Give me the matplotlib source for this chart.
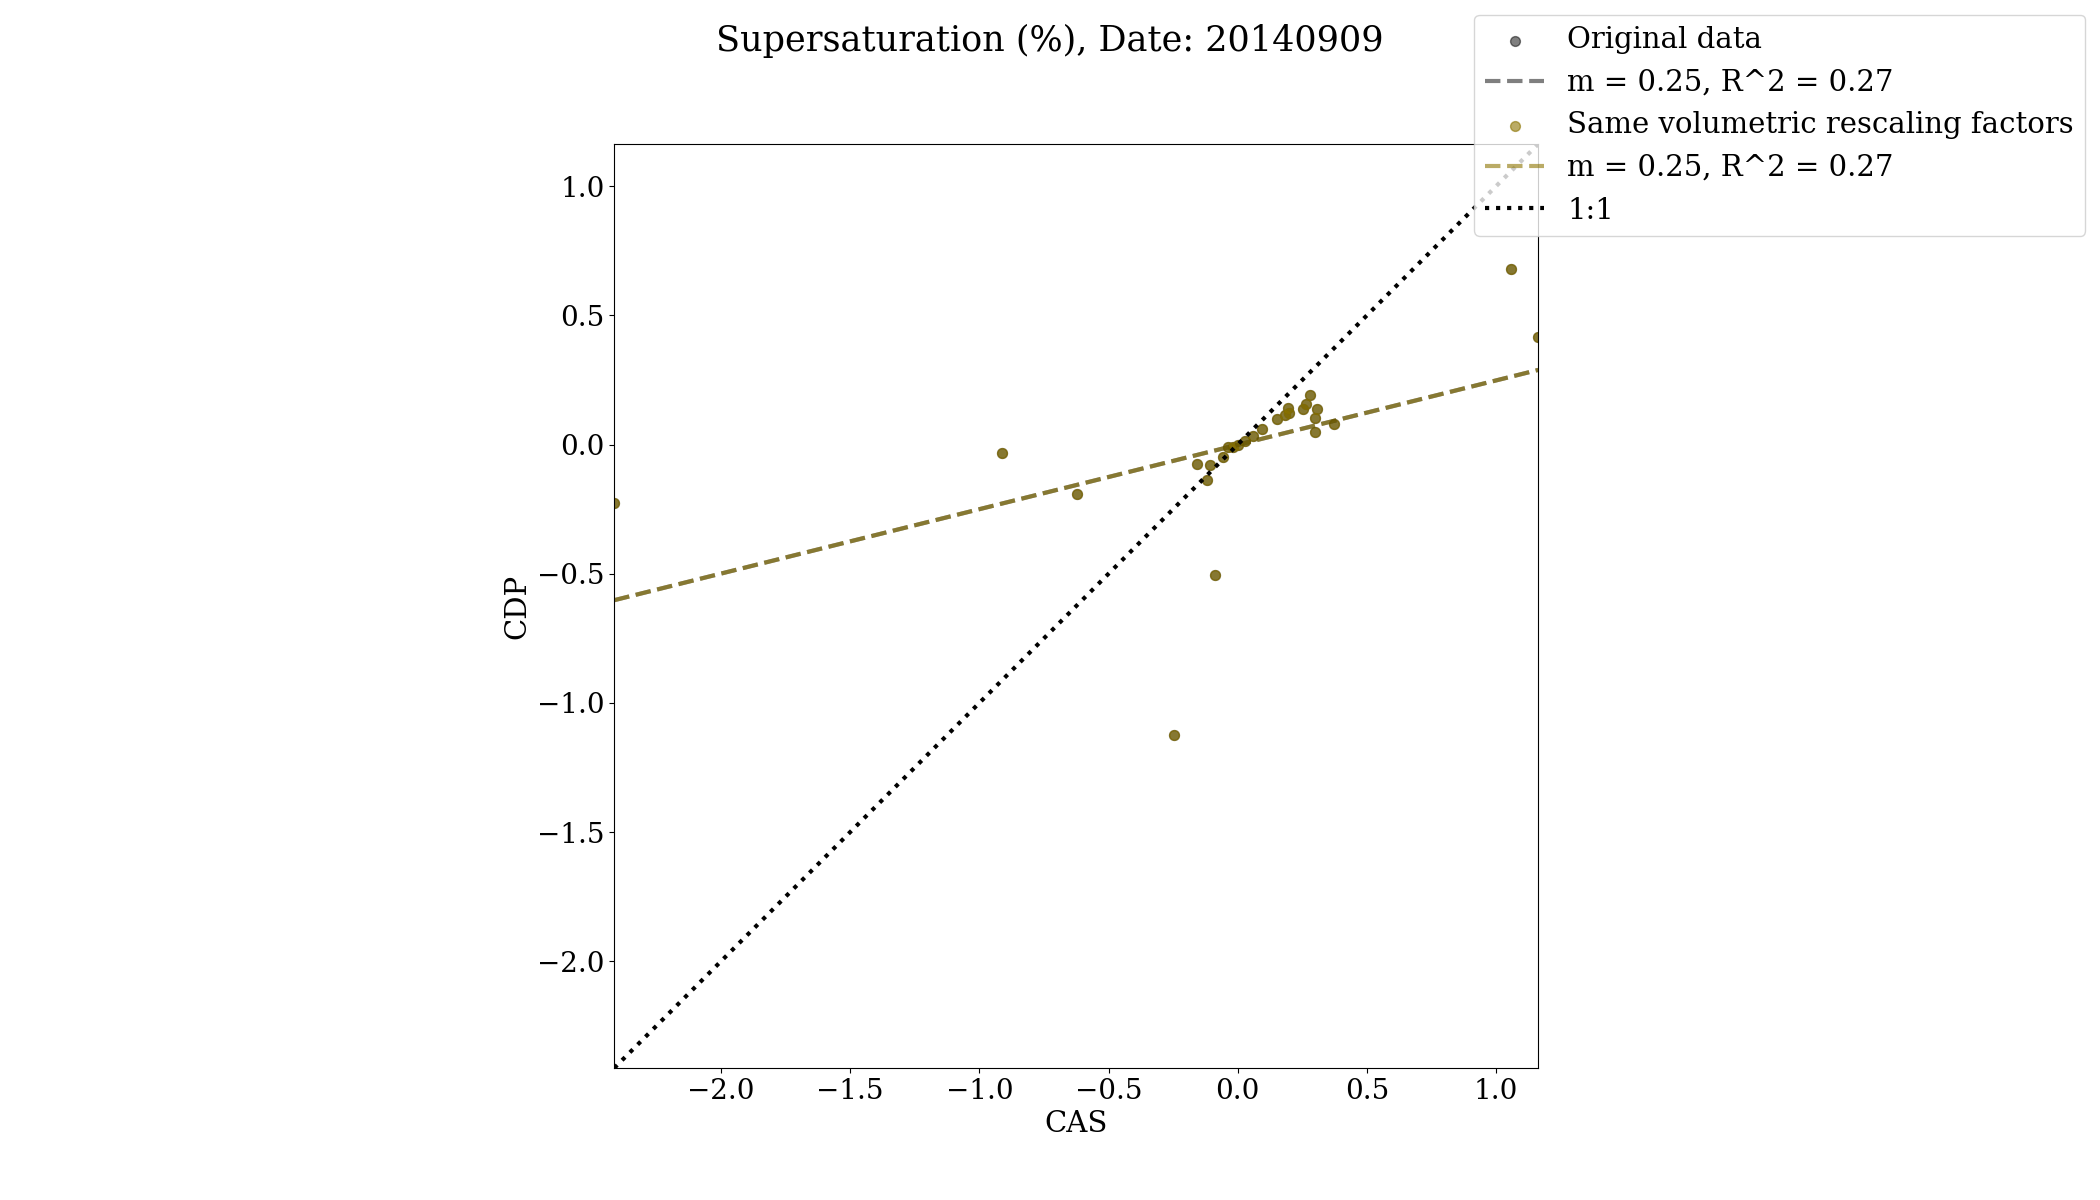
import numpy as np
import matplotlib
matplotlib.use('Agg')
import matplotlib.pyplot as plt

# CAS vs CDP supersaturation (%)
cas = [-2.413, -0.913, -0.623, -0.245, -0.087, -0.156, -0.107, -0.118,
       -0.056, -0.039, -0.017, 0.000, 0.028, 0.058, 0.095, 0.152,
       0.183, 0.200, 0.196, 0.254, 0.264, 0.281, 0.308, 0.300,
       0.300, 0.374, 1.057, 1.163]
cdp = [-0.225, -0.034, -0.192, -1.125, -0.506, -0.077, -0.079, -0.139,
       -0.047, -0.011, -0.011, -0.002, 0.014, 0.034, 0.060, 0.098,
       0.114, 0.123, 0.142, 0.136, 0.157, 0.190, 0.137, 0.101,
       0.048, 0.078, 0.678, 0.415]

# fit numbers as printed in the legend
m_label = 0.25
r2_label = 0.27
date = '20140909'

plt.rcParams['font.family'] = 'DejaVu Serif'
plt.rcParams['font.size'] = 21
plt.rcParams['xtick.labelsize'] = 20
plt.rcParams['ytick.labelsize'] = 20

x = np.array(cas)
y = np.array(cdp)
m, b = np.polyfit(x, y, 1)
xfit = np.array([x.min(), x.max()])

lims = [min(x.min(), y.min()), max(x.max(), y.max())]

fig, ax = plt.subplots(figsize=(21, 12), dpi=100)

fit_label = f'm = {m_label:.2f}, R^2 = {r2_label:.2f}'

# original
ax.scatter(x, y, s=50, color='k', alpha=0.5, label='Original data')
ax.plot(xfit, m * xfit + b, '--', color='k', alpha=0.5, lw=3, label=fit_label)

# rescaled (same factors, so same points)
ax.scatter(x, y, s=50, color='#8c7400', alpha=0.6,
           label='Same volumetric rescaling factors')
ax.plot(xfit, m * xfit + b, '--', color='#8c7400', alpha=0.6, lw=3,
        label=fit_label)

ax.plot(lims, lims, 'k:', lw=3, label='1:1')

ax.set_xlim(lims)
ax.set_ylim(lims)
ax.set_aspect('equal')
ax.set_xlabel('CAS')
ax.set_ylabel('CDP')

fig.suptitle(f'Supersaturation (%), Date: {date}')
fig.legend(loc='upper right')

plt.savefig('out.png', dpi=100)
plt.close()
